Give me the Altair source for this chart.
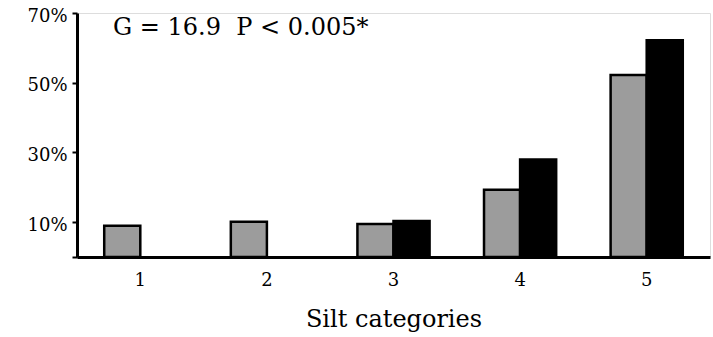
import altair as alt
import pandas as pd

# Share of samples (%) per silt category, two groups
categories = ["1", "2", "3", "4", "5"]
group_a = [9.0, 10.1, 9.5, 19.3, 52.2]   # stippled bars
group_b = [0.0, 0.0, 10.3, 28.0, 62.2]   # solid bars
group_names = ["A", "B"]

y_ticks = [0, 10, 30, 50, 70]
annotation = "G = 16.9\u00a0\u00a0P < 0.005*"

rows = []
for cat, a, b in zip(categories, group_a, group_b):
    rows.append({"cat": cat, "group": group_names[0], "pct": a})
    rows.append({"cat": cat, "group": group_names[1], "pct": b})
df = pd.DataFrame(rows)

FONT = "DejaVu Serif"

# empty (zero) bars are skipped so their outline does not sit on the baseline
bars = alt.Chart(df).transform_filter("datum.pct > 0").mark_bar(
    stroke="black", strokeWidth=2.5
).encode(
    x=alt.X(
        "cat:N",
        sort=categories,
        scale=alt.Scale(domain=categories, paddingInner=0.43, paddingOuter=0.215),
        axis=alt.Axis(
            title="Silt categories",
            labelAngle=0,
            ticks=False,
            domainWidth=3,
            domainColor="black",
            labelFont=FONT,
            labelFontSize=18,
            labelColor="black",
            labelPadding=14,
            titleFont=FONT,
            titleFontSize=24,
            titleFontWeight="normal",
            titleColor="black",
            titlePadding=18,
        ),
    ),
    xOffset=alt.XOffset("group:N", scale=alt.Scale(domain=group_names)),
    y=alt.Y(
        "pct:Q",
        scale=alt.Scale(domain=[0, 70], nice=False),
        axis=alt.Axis(
            title=None,
            values=y_ticks,
            labelExpr="datum.value === 0 ? '' : datum.value + '%'",
            grid=False,
            domainWidth=3,
            domainColor="black",
            tickWidth=2,
            tickSize=5,
            tickColor="black",
            labelFont=FONT,
            labelFontSize=18,
            labelColor="black",
            labelPadding=5,
            labelOffset=3,
        ),
    ),
    color=alt.Color(
        "group:N",
        scale=alt.Scale(domain=group_names, range=["#9c9c9c", "black"]),
        legend=None,
    ),
)

note = alt.Chart(pd.DataFrame({"t": [annotation]})).mark_text(
    font=FONT, fontSize=24, align="left", baseline="alphabetic", color="black"
).encode(text="t:N", x=alt.value(36), y=alt.value(22))

chart = (
    alt.layer(bars, note)
    .properties(
        width=633,
        height=244,
        autosize=alt.AutoSizeParams(type="none"),
        padding={"left": 77, "top": 13, "right": 3, "bottom": 80},
    )
    .configure_view(stroke=None)
    .configure(background="white")
)

chart.save("out.html", embed_options={"renderer": "svg", "actions": False})
